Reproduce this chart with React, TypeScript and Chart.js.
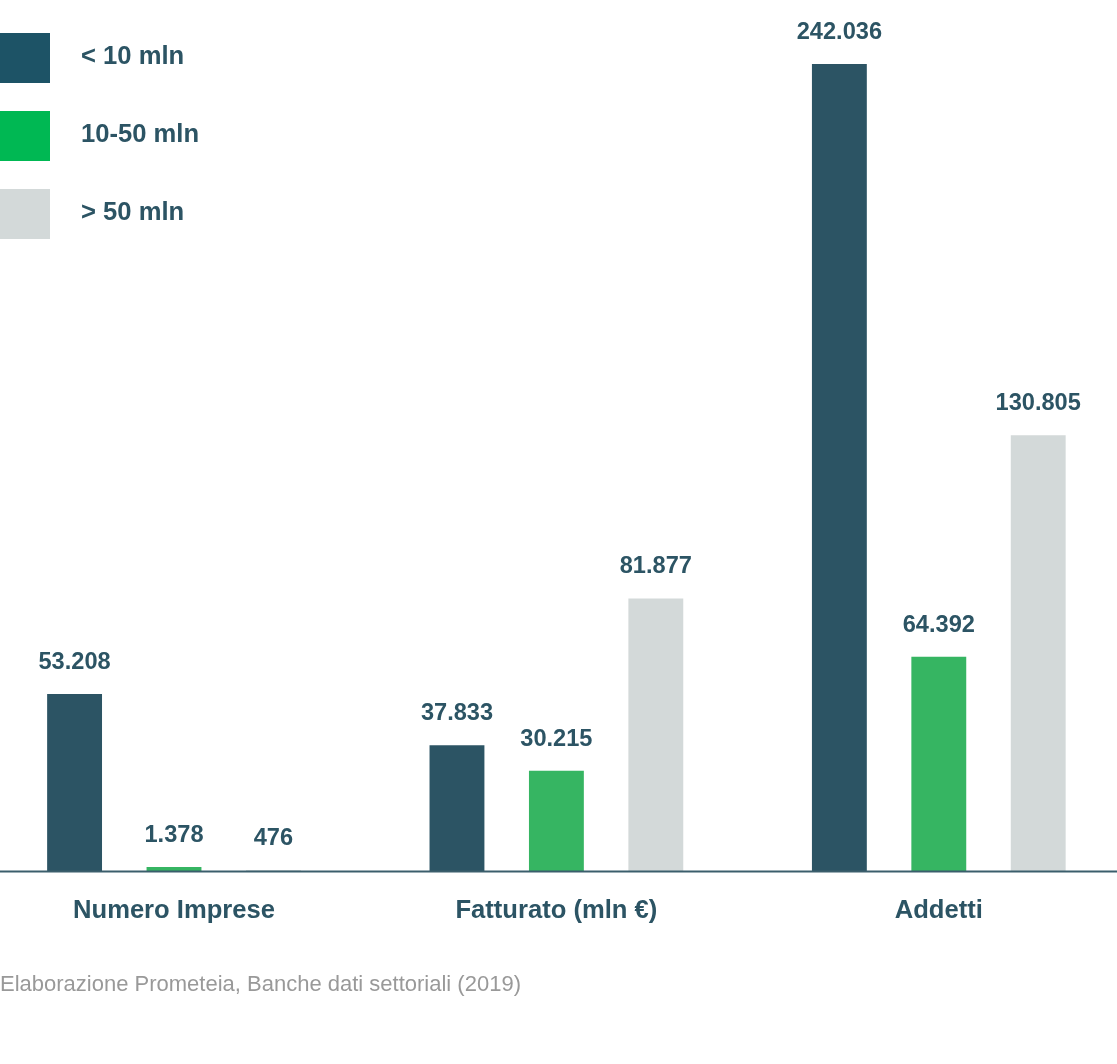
import React, { useEffect, useRef } from "react";
import { Chart, registerables } from "chart.js";

Chart.register(...registerables);

const categories = ["Numero Imprese", "Fatturato (mln €)", "Addetti"];
const seriesNames = ["< 10 mln", "10-50 mln", "> 50 mln"];
const smallValues = [53208, 37833, 242036];
const midValues = [1378, 30215, 64392];
const largeValues = [476, 81877, 130805];
const footerText = "Elaborazione Prometeia, Banche dati settoriali (2019)";

const TEXT = "#2c5464";
const FONT = '"Liberation Sans", Arial, Helvetica, sans-serif';
const barColors = ["#2c5464", "#36b562", "#d3d9d9"];
const legendColors = ["#1d5366", "#00b853", "#d3d9d9"];

const fmt = (n: number) => String(n).replace(/\B(?=(\d{3})+(?!\d))/g, ".");

const overlay = {
  id: "overlay",
  afterDatasetsDraw(chart: any) {
    const { ctx, scales } = chart;
    const yBase = scales.y.getPixelForValue(0);
    ctx.save();
    // baseline line across the whole width
    ctx.strokeStyle = "#3b5e6c";
    ctx.lineWidth = 2;
    ctx.beginPath();
    ctx.moveTo(0, yBase);
    ctx.lineTo(chart.width, yBase);
    ctx.stroke();

    // value labels
    ctx.fillStyle = TEXT;
    ctx.font = `bold 23.6px ${FONT}`;
    ctx.textAlign = "center";
    ctx.textBaseline = "alphabetic";
    chart.data.datasets.forEach((ds: any, di: number) => {
      const meta = chart.getDatasetMeta(di);
      meta.data.forEach((bar: any, i: number) => {
        ctx.fillText(fmt(ds.data[i]), bar.x, bar.y - 25);
      });
    });

    // legend
    ctx.textAlign = "left";
    ctx.font = `bold 25.6px ${FONT}`;
    seriesNames.forEach((name, i) => {
      const top = 33 + i * 78;
      ctx.fillStyle = legendColors[i];
      ctx.fillRect(0, top, 50, 50);
      ctx.fillStyle = TEXT;
      ctx.fillText(name, 81, top + 31);
    });

    // footer
    ctx.fillStyle = "#999999";
    ctx.font = `22px ${FONT}`;
    ctx.textBaseline = "middle";
    ctx.fillText(footerText, 0, 985);
    ctx.restore();
  },
};

export default function App() {
  const ref = useRef<HTMLCanvasElement>(null);
  useEffect(() => {
    document.body.style.margin = "0";
    const values = [smallValues, midValues, largeValues];
    const chart = new Chart(ref.current as HTMLCanvasElement, {
      type: "bar",
      data: {
        labels: categories,
        datasets: seriesNames.map((name, i) => ({
          label: name,
          data: values[i],
          backgroundColor: barColors[i],
          borderWidth: 0,
          categoryPercentage: 0.78,
          barPercentage: 0.552,
          clip: false as any,
        })),
      },
      options: {
        animation: false,
        responsive: false,
        devicePixelRatio: 1,
        layout: { padding: { left: 174, right: 178.2, top: 37.44, bottom: 113.7 } },
        plugins: { legend: { display: false }, tooltip: { enabled: false }, title: { display: false } },
        scales: {
          x: {
            offset: false,
            grid: { display: false, drawTicks: false },
            border: { display: false },
            ticks: {
              autoSkip: false,
              maxRotation: 0,
              minRotation: 0,
              padding: 24,
              color: TEXT,
              font: { family: FONT, size: 25.6, weight: "bold", lineHeight: 1.2 },
            },
          },
          y: {
            display: false,
            min: 0,
            max: 250000,
          },
        },
      },
      plugins: [overlay],
    });
    return () => chart.destroy();
  }, []);
  return <canvas ref={ref} width={1117} height={1064} style={{ display: "block" }} />;
}
